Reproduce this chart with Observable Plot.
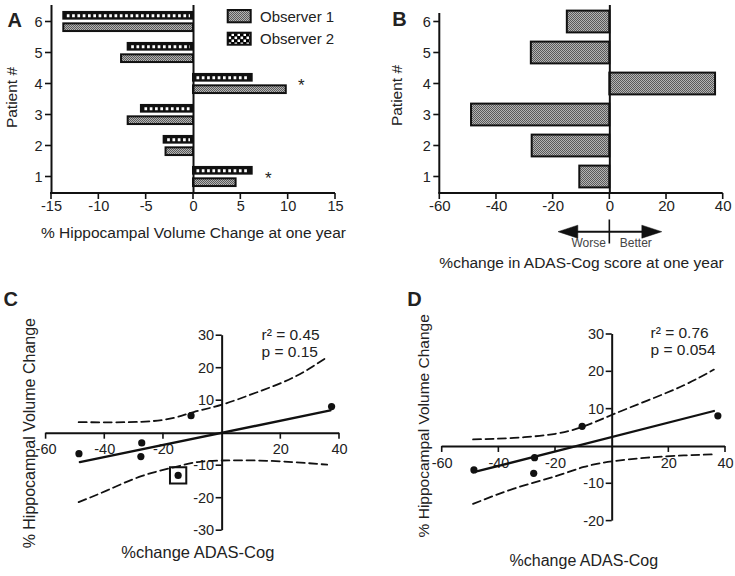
<!DOCTYPE html>
<html><head><meta charset="utf-8">
<script src="https://cdn.jsdelivr.net/npm/d3@7"></script>
<script src="https://cdn.jsdelivr.net/npm/@observablehq/plot@0.6"></script>
<style>
body{margin:0;background:#fff;}
#wrap{position:relative;width:735px;height:576px;overflow:hidden;font-family:"Liberation Sans",Arial,sans-serif;background:#fff;}
.panel{position:absolute;}
</style></head><body>
<svg width="0" height="0" style="position:absolute"><defs>
<pattern id="stip" width="2" height="2" patternUnits="userSpaceOnUse"><rect width="2" height="2" fill="#b4b4b4"/><rect width="1" height="1" fill="#5a5a5a"/><rect x="1" y="1" width="1" height="1" fill="#5a5a5a"/></pattern>
<pattern id="chk" width="6" height="6" patternUnits="userSpaceOnUse"><rect width="6" height="6" fill="#000"/><rect x="0.5" y="0.5" width="2.6" height="2.6" fill="#fff"/><rect x="3.5" y="3.5" width="2.6" height="2.6" fill="#fff"/></pattern>
</defs></svg>
<div id="wrap"></div>
<script>
// ---------- data ----------
const patients = [1, 2, 3, 4, 5, 6];
const observer1 = [4.5, -2.9, -6.9, 9.8, -7.6, -13.7];
const observer2 = [6.2, -3.1, -5.5, 6.2, -6.9, -13.7];
const starPatients = [4, 1];
const starX = [11.4, 7.9];
const adasChange = [-10.6, -27.4, -48.8, 37.3, -27.7, -15.0];
const hippoChange = [5.4, -3.0, -6.3, 8.2, -7.2, -13.0];
const outlierPatient = 6;
const ticksA = [-15, -10, -5, 0, 5, 10, 15];
const ticksB = [-60, -40, -20, 0, 20, 40];
const ticksCDx = [-60, -40, -20, 20, 40];
const ticksCy = [30, 20, 10, -10, -20, -30];
const ticksDy = [30, 20, 10, -10, -20];
// panel C fit line and 95% band
const fitCx = [-48.5, 36.9];
const fitCy = [-8.9, 7.0];
const upperCx = [-48.9, -27.8, -16.5, -9.7, 0, 11.9, 24.4, 35.8];
const upperCy = [3.4, 3.5, 4.7, 6.5, 8.8, 12.6, 17.2, 23.4];
const lowerCx = [-48.9, -39.2, -27.8, -16.5, -8.5, 0, 11.9, 24.4, 35.8];
const lowerCy = [-21.2, -17.6, -13.3, -10.5, -8.9, -8.4, -8.4, -8.9, -9.7];
// panel D (outlier excluded)
const fitDx = [-48.9, 35.9];
const fitDy = [-6.9, 9.5];
const bandDx = [-49.1, -34.7, -20.0, -10.0, 0, 12.4, 25.3, 35.9];
const upperDy = [1.9, 2.3, 3.4, 5.4, 8.5, 12.3, 16.4, 20.6];
const lowerDy = [-15.4, -11.3, -8.0, -5.5, -4.0, -3.0, -2.4, -2.1];
const legendLabels = ["Observer 1", "Observer 2"];
const statsC = ["r² = 0.45", "p = 0.15"];
const statsD = ["r² = 0.76", "p = 0.054"];

// ---------- helpers ----------
const FONT = "'Liberation Sans', Arial, Helvetica, sans-serif";
const INK = "#111";
const TXT = "#222";
const NS = "http://www.w3.org/2000/svg";
function el(tag, attrs, text) {
  const e = document.createElementNS(NS, tag);
  for (const k in attrs) e.setAttribute(k, attrs[k]);
  if (text != null) e.textContent = text;
  return e;
}
function linesMark(fn, attrs = {}) {
  return (index, scales, values, dims) => {
    const g = el("g", Object.assign({stroke: INK, "stroke-width": 1.6, fill: "none"}, attrs));
    for (const [x1, y1, x2, y2] of fn(scales, dims)) g.appendChild(el("line", {x1, y1, x2, y2}));
    return g;
  };
}
function zip(xs, ys) { return xs.map((x, i) => ({x, y: ys[i]})); }
const style = {fontFamily: FONT, color: TXT, background: "transparent", overflow: "visible"};
function place(svg, left, top) {
  const d = document.createElement("div");
  d.className = "panel"; d.style.left = left + "px"; d.style.top = top + "px";
  d.appendChild(svg); document.getElementById("wrap").appendChild(d);
}
const bandMid = (s, p) => s.y(p) + s.y.bandwidth() / 2;

// ---------- Panel A ----------
const dataA = patients.map((p, i) => ({patient: p, o1: observer1[i], o2: observer2[i]}));
const starsA = starPatients.map((p, i) => ({patient: p, x: starX[i]}));
const A = Plot.plot({
  width: 367, height: 250, marginLeft: 51, marginRight: 32, marginTop: 5, marginBottom: 57,
  x: {domain: [-15, 15], axis: null},
  y: {type: "band", domain: [6, 5, 4, 3, 2, 1], padding: 0, axis: null},
  style,
  marks: [
    Plot.barX(dataA, {y: "patient", x: "o2", fill: INK, stroke: INK, strokeWidth: 2, insetTop: 5.95, insetBottom: 18.35}),
    Plot.ruleY(dataA, {y: "patient", x1: d => Math.min(0, d.o2), x2: d => Math.max(0, d.o2), stroke: "#fff", strokeWidth: 3, strokeDasharray: "2.7,2.6", insetLeft: 3.5, insetRight: 3, dy: -6.2}),
    Plot.barX(dataA, {y: "patient", x: "o1", fill: "url(#stip)", stroke: INK, strokeWidth: 2, insetTop: 17.35, insetBottom: 5.95}),
    Plot.ruleX([0], {stroke: INK, strokeWidth: 2}),
    Plot.ruleX([-15], {stroke: INK, strokeWidth: 2}),
    linesMark((s, d) => { const yb = d.height - d.marginBottom; return [[s.x(-15) - 1, yb, s.x(15), yb]]; }, {"stroke-width": 2}),
    linesMark((s, d) => { const yb = d.height - d.marginBottom; return ticksA.map(t => [s.x(t), yb, s.x(t), yb + 6]); }),
    linesMark((s, d) => patients.map(p => [s.x(-15) - 6, bandMid(s, p), s.x(-15), bandMid(s, p)])),
    Plot.text(ticksA, {x: d => d, frameAnchor: "bottom", dy: 17, fontSize: 14.5}),
    Plot.text(patients, {y: d => d, frameAnchor: "left", dx: -9, textAnchor: "end", fontSize: 14.5}),
    Plot.text(starsA, {x: "x", y: "patient", text: () => "*", fontSize: 17, dy: 2}),
    Plot.text(["% Hippocampal Volume Change at one year"], {frameAnchor: "bottom", dy: 44, fontSize: 15.5}),
    Plot.text(["Patient #"], {frameAnchor: "left", dx: -39, dy: -2, rotate: -90, textAnchor: "middle", fontSize: 15.5}),
    Plot.text(["A"], {frameAnchor: "top-left", dx: -44, dy: 21, textAnchor: "start", lineAnchor: "bottom", fontSize: 20, fontWeight: "bold"}),
    (index, s, v, d) => {
      const g = el("g", {"text-anchor": "start"});
      g.appendChild(el("rect", {x: 227.7, y: 10, width: 23, height: 12.3, fill: "url(#stip)", stroke: INK, "stroke-width": 2}));
      g.appendChild(el("rect", {x: 227.7, y: 32.7, width: 23, height: 12, fill: "url(#chk)", stroke: INK, "stroke-width": 2}));
      g.appendChild(el("text", {x: 260, y: 22.3, "font-size": 15, fill: TXT, "text-anchor": "start"}, legendLabels[0]));
      g.appendChild(el("text", {x: 260, y: 44, "font-size": 15, fill: TXT, "text-anchor": "start"}, legendLabels[1]));
      return g;
    }
  ]
});
place(A, 0, 0);

// ---------- Panel B ----------
const dataB = patients.map((p, i) => ({patient: p, adas: adasChange[i]}));
const B = Plot.plot({
  width: 365, height: 280, marginLeft: 69.3, marginRight: 12.3, marginTop: 5, marginBottom: 87,
  x: {domain: [-60, 40], axis: null},
  y: {type: "band", domain: [6, 5, 4, 3, 2, 1], padding: 0, axis: null},
  style,
  marks: [
    Plot.barX(dataB, {y: "patient", x: "adas", fill: "url(#stip)", stroke: INK, strokeWidth: 2, insetTop: 4.6, insetBottom: 4.6}),
    Plot.ruleX([0], {stroke: INK, strokeWidth: 2}),
    linesMark((s, d) => { const yb = d.height - d.marginBottom; return [[s.x(-60), 13, s.x(-60), yb], [s.x(-60) - 1, yb, s.x(40), yb]]; }, {"stroke-width": 2}),
    linesMark((s, d) => { const yb = d.height - d.marginBottom; return ticksB.map(t => [s.x(t), yb, s.x(t), yb + 6]); }),
    linesMark((s, d) => patients.map(p => [s.x(-60) - 6, bandMid(s, p), s.x(-60), bandMid(s, p)])),
    Plot.text(ticksB, {x: d => d, frameAnchor: "bottom", dy: 17, fontSize: 15}),
    Plot.text(patients, {y: d => d, frameAnchor: "left", dx: -9, textAnchor: "end", fontSize: 14.5}),
    (index, s, v, d) => {
      const x0 = s.x(0), y = 231.7;
      const g = el("g", {stroke: INK, fill: INK});
      g.appendChild(el("line", {x1: x0 - 34, y1: y, x2: x0 + 34, y2: y, "stroke-width": 2}));
      g.appendChild(el("polygon", {points: `${x0 - 51.3},${y} ${x0 - 31.5},${y - 6.5} ${x0 - 31.5},${y + 6.5}`, "stroke-width": 0.5}));
      g.appendChild(el("polygon", {points: `${x0 + 52.4},${y} ${x0 + 32.5},${y - 6.5} ${x0 + 32.5},${y + 6.5}`, "stroke-width": 0.5}));
      g.appendChild(el("line", {x1: x0, y1: 219.5, x2: x0, y2: 243.5, "stroke-width": 1.6}));
      return g;
    },
    Plot.text(["Worse"], {x: 0, frameAnchor: "bottom", dx: -4, dy: 53.7, textAnchor: "end", fontSize: 12, fill: "#444"}),
    Plot.text(["Better"], {x: 0, frameAnchor: "bottom", dx: 10, dy: 53.7, textAnchor: "start", fontSize: 12, fill: "#444"}),
    Plot.text(["%change in ADAS-Cog score at one year"], {frameAnchor: "bottom", dy: 74, fontSize: 15.5}),
    Plot.text(["Patient #"], {frameAnchor: "left", dx: -42.6, dy: -4, rotate: -90, textAnchor: "middle", fontSize: 15.5}),
    Plot.text(["B"], {frameAnchor: "top-left", dx: -47.6, dy: 20, textAnchor: "start", lineAnchor: "bottom", fontSize: 20, fontWeight: "bold"})
  ]
});
place(B, 370, 0);

// ---------- scatter panels ----------
const scatter = patients.map((p, i) => ({patient: p, x: adasChange[i], y: hippoChange[i]}));
function crossTicks(xt, yt) {
  return linesMark((s, d) => {
    const x0 = s.x(0), y0 = s.y(0);
    return [...xt.map(t => [s.x(t), y0, s.x(t), y0 + 6]), ...yt.map(t => [x0 - 6, s.y(t), x0, s.y(t)])];
  });
}

// ---------- Panel C ----------
const C = Plot.plot({
  width: 370, height: 296, marginLeft: 45.6, marginRight: 31, marginTop: 55.2, marginBottom: 45.8,
  x: {domain: [-60, 40], axis: null},
  y: {domain: [-30, 30], axis: null},
  style,
  marks: [
    Plot.ruleY([0], {stroke: INK, strokeWidth: 2}),
    Plot.ruleX([0], {stroke: INK, strokeWidth: 2}),
    crossTicks(ticksCDx, ticksCy),
    Plot.text(ticksCDx, {x: d => d, y: 0, dy: 16.5, fontSize: 14.5}),
    Plot.text(ticksCy, {x: 0, y: d => d, dx: -8, textAnchor: "end", fontSize: 14.5}),
    Plot.line(zip(upperCx, upperCy), {x: "x", y: "y", curve: "natural", stroke: INK, strokeWidth: 1.8, strokeDasharray: "8,4.5"}),
    Plot.line(zip(lowerCx, lowerCy), {x: "x", y: "y", curve: "natural", stroke: INK, strokeWidth: 1.8, strokeDasharray: "8,4.5"}),
    Plot.line(zip(fitCx, fitCy), {x: "x", y: "y", stroke: INK, strokeWidth: 2.3}),
    Plot.dot(scatter, {x: "x", y: "y", r: 3.6, fill: INK}),
    Plot.dot(scatter.filter(d => d.patient === outlierPatient), {x: "x", y: "y", symbol: "square", r: 9.2, stroke: INK, strokeWidth: 2, fill: "none"}),
    Plot.text([statsC[0]], {frameAnchor: "top-right", dx: -78, dy: -6.9, textAnchor: "start", fontSize: 15.5}),
    Plot.text([statsC[1]], {frameAnchor: "top-right", dx: -78, dy: 9.8, textAnchor: "start", fontSize: 15.5}),
    Plot.text(["%change ADAS-Cog"], {frameAnchor: "bottom", dx: 5, dy: 27, fontSize: 16.5}),
    Plot.text(["% Hippocampal Volume Change"], {frameAnchor: "left", dx: -16.6, rotate: -90, textAnchor: "middle", fontSize: 16}),
    Plot.text(["C"], {frameAnchor: "top-left", dx: -42.6, dy: -30.2, textAnchor: "start", lineAnchor: "bottom", fontSize: 20, fontWeight: "bold"})
  ]
});
place(C, 0, 280);

// ---------- Panel D ----------
const scatterD = scatter.filter(d => d.patient !== outlierPatient);
const D = Plot.plot({
  width: 365, height: 296, marginLeft: 71.7, marginRight: 10, marginTop: 54, marginBottom: 55.4,
  x: {domain: [-60, 40], axis: null},
  y: {domain: [-20, 30], axis: null},
  style,
  marks: [
    Plot.ruleY([0], {stroke: INK, strokeWidth: 2}),
    Plot.ruleX([0], {stroke: INK, strokeWidth: 2}),
    crossTicks(ticksCDx, ticksDy),
    Plot.text(ticksCDx, {x: d => d, y: 0, dy: 16.7, fontSize: 14.5}),
    Plot.text(ticksDy, {x: 0, y: d => d, dx: -8, textAnchor: "end", fontSize: 14.5}),
    Plot.line(zip(bandDx, upperDy), {x: "x", y: "y", curve: "natural", stroke: INK, strokeWidth: 1.8, strokeDasharray: "8,4.5"}),
    Plot.line(zip(bandDx, lowerDy), {x: "x", y: "y", curve: "natural", stroke: INK, strokeWidth: 1.8, strokeDasharray: "8,4.5"}),
    Plot.line(zip(fitDx, fitDy), {x: "x", y: "y", stroke: INK, strokeWidth: 2.3}),
    Plot.dot(scatterD, {x: "x", y: "y", r: 3.6, fill: INK}),
    Plot.text([statsD[0]], {frameAnchor: "top-right", dx: -75, dy: -7.3, textAnchor: "start", fontSize: 15.5}),
    Plot.text([statsD[1]], {frameAnchor: "top-right", dx: -75, dy: 9.3, textAnchor: "start", fontSize: 15.5}),
    Plot.text(["%change ADAS-Cog"], {frameAnchor: "bottom", dy: 44.4, fontSize: 16}),
    Plot.text(["% Hippocampal Volume Change"], {frameAnchor: "left", dx: -17.7, dy: -2, rotate: -90, textAnchor: "middle", fontSize: 15.5}),
    Plot.text(["D"], {frameAnchor: "top-left", dx: -35, dy: -29, textAnchor: "start", lineAnchor: "bottom", fontSize: 20, fontWeight: "bold"})
  ]
});
place(D, 370, 280);
</script>
</body></html>
